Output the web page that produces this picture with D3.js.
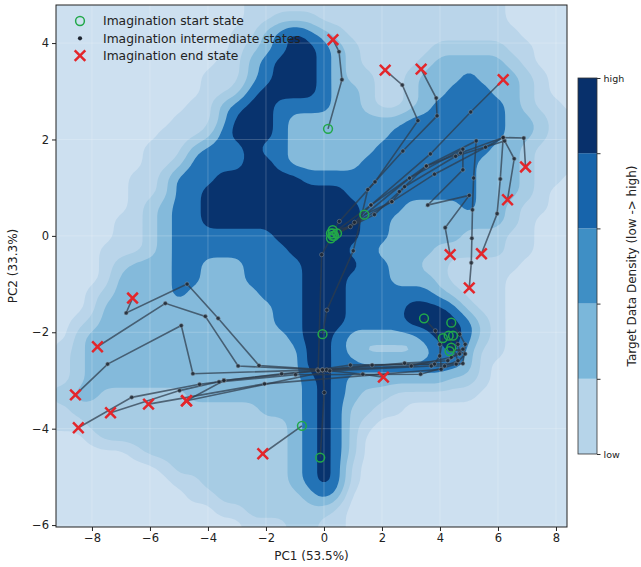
<!DOCTYPE html>
<html>
<head>
<meta charset="utf-8">
<script src="https://cdn.jsdelivr.net/npm/d3@7"></script>
<style>
  body { margin: 0; background: #fff; }
  text { font-family: "DejaVu Sans", sans-serif; fill: #222; }
</style>
</head>
<body>
<svg id="chart" width="641" height="567"></svg>
<script>
// ---- data ----
var xTicks = [-8, -6, -4, -2, 0, 2, 4, 6, 8];
var yTicks = [-6, -4, -2, 0, 2, 4];
var legendLabels = ["Imagination start state", "Imagination intermediate states", "Imagination end state"];

// density level, grid x = -9 .. 8.5 (step 0.5), y = 4.8 .. -6.0 (step -0.3)
var densityX0 = -9, densityDX = 0.5, densityY0 = 4.8, densityDY = -0.3;
var densityRows = [
  "000000000000011111111111111111100000",
  "000000000000011222111111111111100000",
  "000000000000113454321111111111110000",
  "000000000000123455432111112222211000",
  "000000000001134555432111123333321000",
  "000000000011134555432211233343332100",
  "000000000011245555433211233444332100",
  "000000000113455444433211234444432110",
  "000000001113555433333333444444433211",
  "000000011124555433333334444444433211",
  "000000111344454433333344444444332111",
  "000000112444455433333444444443332111",
  "000001124445555554444444444443332110",
  "000001124455555555554444444443332100",
  "000001234455555555555444333343321100",
  "000011234455555555555443333333321000",
  "000011234444444555555443333322211000",
  "000111234444444455554433332222211000",
  "000123334433344445555443322111110000",
  "000133334433344445554443332111100000",
  "001233334333334445554444443211100000",
  "001333333333333445554444555421100000",
  "012333333333333445554444555542100000",
  "023333333333333345543333345542100000",
  "123333333333333335543222234531100000",
  "123333333333333335544444444431000000",
  "123333333333333334543333333221000000",
  "233222222333333334543221111110000000",
  "122222222222223334542211000000000000",
  "112222222222222234542100000000000000",
  "001222222222222234542000000000000000",
  "000001222222222234542000000000000000",
  "000000012222222234541000000000000000",
  "000000001122222234541000000000000000",
  "000000000112222223430000000000000000",
  "000000000001122222210000000000000000",
  "000000000000011122110000000000000000"
];
var densityThresholds = [0.5, 1.5, 2.5, 3.5, 4.5];
var densityColors = ["#bad5ea", "#a7cce4", "#84badb", "#2373b6", "#08336e"];
var densityBackground = "#cde0f0";

var colorbarColors = ["#b6d4e9", "#7bb7da", "#3f8fc5", "#1764ab", "#08306b"];

// imagination trajectories: first point = start, last point = end
var trajectories = [
  [[0.14, 2.22], [0.62, 3.24], [0.52, 3.82], [0.31, 4.07]],
  [[0.24, 0.05], [0.53, 0.30], [1.76, 1.12], [3.24, 2.39], [2.70, 3.13], [2.11, 3.44]],
  [[-0.05, -2.04], [0.10, -1.54], [1.01, -0.31], [1.51, 0.96], [2.72, 1.76], [3.90, 2.49], [3.87, 2.86], [3.35, 3.46]],
  [[0.30, 0.00], [1.05, 0.28], [1.62, 0.64], [3.67, 1.70], [5.06, 2.57], [6.18, 3.24]],
  [[0.45, 0.05], [1.74, 0.44], [2.60, 0.92], [3.53, 1.45], [4.71, 1.72], [6.18, 2.04], [6.89, 2.03], [6.95, 1.43]],
  [[1.39, 0.44], [2.34, 0.71], [2.78, 1.02], [4.54, 1.65], [6.23, 1.97], [6.56, 1.60], [6.33, 0.75]],
  [[0.30, 0.12], [0.91, 0.19], [2.95, 1.20], [4.79, 1.80], [4.79, 1.37], [3.58, 0.64], [5.01, 0.84], [4.18, 0.17], [4.35, -0.39]],
  [[0.35, 0.00], [2.34, 0.71], [3.81, 1.28], [5.57, 1.84], [6.18, 2.04], [6.08, 1.18], [5.97, 0.46], [5.43, -0.37]],
  [[0.30, 0.05], [1.62, 0.64], [3.53, 1.45], [5.25, 1.97], [5.16, 1.20], [5.12, 0.54], [5.10, -0.05], [5.08, -0.56], [5.01, -1.08]],
  [[4.45, -2.07], [4.62, -2.25], [4.68, -2.45], [4.39, -2.52], [3.01, -2.70], [0.09, -2.78], [-2.24, -2.69], [-3.65, -1.71], [-4.72, -1.00], [-6.82, -1.60], [-6.60, -1.29]],
  [[4.39, -1.80], [4.68, -2.04], [4.87, -2.25], [4.79, -2.65], [1.66, -2.68], [-0.06, -2.78], [-2.96, -2.70], [-4.09, -1.67], [-5.47, -1.40], [-7.81, -2.30]],
  [[4.10, -2.12], [3.99, -2.49], [3.81, -2.66], [0.91, -2.68], [-0.22, -2.78], [-4.52, -2.86], [-4.92, -1.86], [-7.46, -2.66], [-8.57, -3.30]],
  [[4.39, -2.32], [4.87, -2.45], [4.56, -2.66], [3.33, -2.87], [-0.98, -2.88], [-3.62, -3.03], [-4.29, -3.08], [-6.63, -3.35], [-8.47, -3.98]],
  [[4.33, -2.39], [4.79, -2.35], [4.27, -2.59], [2.78, -2.64], [-1.46, -2.86], [-3.45, -3.00], [-4.98, -3.21], [-7.36, -3.67]],
  [[3.45, -1.71], [3.84, -1.97], [3.99, -2.25], [4.04, -2.77], [-2.05, -3.07], [-6.05, -3.49]],
  [[4.30, -2.07], [4.62, -2.59], [4.16, -2.70], [3.70, -2.70], [0.20, -2.80], [-4.74, -3.42]],
  [[0.24, -0.05], [-0.08, -0.39], [-0.20, -2.80], [-3.45, -3.00], [-4.74, -3.42]],
  [[-0.76, -3.94], [-2.11, -4.52]],
  [[-0.13, -4.60], [0.01, -3.25], [-0.05, -2.78], [1.34, -2.87], [2.05, -2.93]]
];

// ---- layout ----
var svg = d3.select("#chart");
var plot = {left: 56, right: 567, top: 5, bottom: 527};

var x = d3.scaleLinear().domain([-9.24, 8.38]).range([plot.left, plot.right]);
var y = d3.scaleLinear().domain([-6.04, 4.79]).range([plot.bottom, plot.top]);

svg.append("defs").append("clipPath").attr("id", "clip")
  .append("rect")
  .attr("x", plot.left).attr("y", plot.top)
  .attr("width", plot.right - plot.left).attr("height", plot.bottom - plot.top);

var g = svg.append("g").attr("clip-path", "url(#clip)");

g.append("rect")
  .attr("x", plot.left).attr("y", plot.top)
  .attr("width", plot.right - plot.left).attr("height", plot.bottom - plot.top)
  .attr("fill", densityBackground);

// ---- density contours ----
var nCols = densityRows[0].length, nRows = densityRows.length;
var up = 4;
var W = nCols * up, H = nRows * up;
function cell(i, j) {
  i = Math.max(0, Math.min(nCols - 1, i));
  j = Math.max(0, Math.min(nRows - 1, j));
  return +densityRows[j][i];
}
var field = new Float64Array(W * H);
for (var q = 0; q < H; q++) {
  for (var p = 0; p < W; p++) {
    var gx = (p + 0.5) / up - 0.5, gy = (q + 0.5) / up - 0.5;
    var i0 = Math.floor(gx), j0 = Math.floor(gy);
    var fx = gx - i0, fy = gy - j0;
    field[q * W + p] =
      cell(i0, j0) * (1 - fx) * (1 - fy) + cell(i0 + 1, j0) * fx * (1 - fy) +
      cell(i0, j0 + 1) * (1 - fx) * fy + cell(i0 + 1, j0 + 1) * fx * fy;
  }
}
// light box blur to round the corners
function blur(a, r) {
  var tmp = new Float64Array(a.length);
  for (var q = 0; q < H; q++) for (var p = 0; p < W; p++) {
    var s = 0, c = 0;
    for (var d = -r; d <= r; d++) { var pp = p + d; if (pp >= 0 && pp < W) { s += a[q * W + pp]; c++; } }
    tmp[q * W + p] = s / c;
  }
  for (var q = 0; q < H; q++) for (var p = 0; p < W; p++) {
    var s = 0, c = 0;
    for (var d = -r; d <= r; d++) { var qq = q + d; if (qq >= 0 && qq < H) { s += tmp[qq * W + p]; c++; } }
    a[q * W + p] = s / c;
  }
}
blur(field, 2);

var contours = d3.contours().size([W, H]).thresholds(densityThresholds)(field);
var toScreen = d3.geoTransform({
  point: function(u, v) {
    var dx = densityX0 + densityDX * (u / up - 0.5);
    var dy = densityY0 + densityDY * (v / up - 0.5);
    this.stream.point(x(dx), y(dy));
  }
});
var contourPath = d3.geoPath(toScreen);
g.selectAll("path.density")
  .data(contours)
  .enter().append("path")
  .attr("class", "density")
  .attr("d", contourPath)
  .attr("fill", function(d, i) { return densityColors[i]; });

// grid
g.selectAll("line.gx").data(xTicks).enter().append("line")
  .attr("x1", function(d) { return x(d); }).attr("x2", function(d) { return x(d); })
  .attr("y1", plot.top).attr("y2", plot.bottom)
  .attr("stroke", "#ffffff").attr("stroke-opacity", 0.25).attr("stroke-width", 0.8);
g.selectAll("line.gy").data(yTicks).enter().append("line")
  .attr("y1", function(d) { return y(d); }).attr("y2", function(d) { return y(d); })
  .attr("x1", plot.left).attr("x2", plot.right)
  .attr("stroke", "#ffffff").attr("stroke-opacity", 0.25).attr("stroke-width", 0.8);

// ---- trajectories ----
var line = d3.line().x(function(d) { return x(d[0]); }).y(function(d) { return y(d[1]); });
g.selectAll("path.traj").data(trajectories).enter().append("path")
  .attr("d", line)
  .attr("fill", "none")
  .attr("stroke", "#2e3b4b").attr("stroke-opacity", 0.72).attr("stroke-width", 1.6);

var mids = [];
trajectories.forEach(function(t) { t.slice(1, -1).forEach(function(p) { mids.push(p); }); });
g.selectAll("circle.mid").data(mids).enter().append("circle")
  .attr("cx", function(d) { return x(d[0]); }).attr("cy", function(d) { return y(d[1]); })
  .attr("r", 2.1).attr("fill", "#1e2530").attr("fill-opacity", 0.8)
  .attr("stroke", "#9aa3ad").attr("stroke-width", 0.4);

g.selectAll("circle.start").data(trajectories).enter().append("circle")
  .attr("cx", function(d) { return x(d[0][0]); }).attr("cy", function(d) { return y(d[0][1]); })
  .attr("r", 4.4).attr("fill", "none")
  .attr("stroke", "#22a84a").attr("stroke-width", 1.5);

var cross = "M-5.3,-5.3L5.3,5.3M-5.3,5.3L5.3,-5.3";
g.selectAll("path.end").data(trajectories).enter().append("path")
  .attr("transform", function(d) { var e = d[d.length - 1]; return "translate(" + x(e[0]) + "," + y(e[1]) + ")"; })
  .attr("d", cross)
  .attr("stroke", "#e3262b").attr("stroke-width", 2.5).attr("fill", "none");

// ---- axes ----
function fmt(d) { return d < 0 ? "\u2212" + Math.abs(d) : "" + d; }
var xAxis = svg.append("g").attr("transform", "translate(0," + plot.bottom + ")")
  .call(d3.axisBottom(x).tickValues(xTicks).tickSize(4).tickPadding(3).tickFormat(fmt));
var yAxis = svg.append("g").attr("transform", "translate(" + plot.left + ",0)")
  .call(d3.axisLeft(y).tickValues(yTicks).tickSize(4).tickPadding(3).tickFormat(fmt));
[xAxis, yAxis].forEach(function(a) {
  a.select(".domain").remove();
  a.selectAll("text").attr("font-size", 11.5).attr("font-family", "DejaVu Sans").attr("fill", "#222");
  a.selectAll("line").attr("stroke", "#222");
});

svg.append("rect")
  .attr("x", plot.left).attr("y", plot.top)
  .attr("width", plot.right - plot.left).attr("height", plot.bottom - plot.top)
  .attr("fill", "none").attr("stroke", "#222").attr("stroke-width", 1);

svg.append("text").attr("x", (plot.left + plot.right) / 2).attr("y", 560)
  .attr("text-anchor", "middle").attr("font-size", 12).text("PC1 (53.5%)");
svg.append("text").attr("transform", "translate(17," + ((plot.top + plot.bottom) / 2) + ") rotate(-90)")
  .attr("text-anchor", "middle").attr("font-size", 12).text("PC2 (33.3%)");

// ---- legend ----
var legend = svg.append("g").attr("transform", "translate(80,21)");
legendLabels.forEach(function(label, i) {
  var row = legend.append("g").attr("transform", "translate(0," + (i * 17.3) + ")");
  if (i === 0) row.append("circle").attr("r", 4.4).attr("fill", "none").attr("stroke", "#22a84a").attr("stroke-width", 1.5);
  if (i === 1) row.append("circle").attr("r", 2.1).attr("fill", "#1e2530");
  if (i === 2) row.append("path").attr("d", cross).attr("stroke", "#e3262b").attr("stroke-width", 2.5);
  row.append("text").attr("x", 23).attr("y", 4.3).attr("font-size", 12.3).text(label);
});

// ---- colorbar ----
var cb = {left: 578, right: 597, top: 78, bottom: 454};
var cbScale = d3.scaleLinear().domain([0, colorbarColors.length]).range([cb.bottom, cb.top]);
svg.selectAll("rect.cb").data(colorbarColors).enter().append("rect")
  .attr("x", cb.left).attr("width", cb.right - cb.left)
  .attr("y", function(d, i) { return cbScale(i + 1); })
  .attr("height", function(d, i) { return cbScale(i) - cbScale(i + 1); })
  .attr("fill", function(d) { return d; });
svg.append("rect").attr("x", cb.left).attr("y", cb.top)
  .attr("width", cb.right - cb.left).attr("height", cb.bottom - cb.top)
  .attr("fill", "none").attr("stroke", "#333").attr("stroke-width", 0.8);
var cbAxis = svg.append("g").attr("transform", "translate(" + cb.right + ",0)")
  .call(d3.axisRight(cbScale).tickValues(d3.range(0, colorbarColors.length + 1)).tickSize(3.5).tickPadding(3)
    .tickFormat(function(d) { return d === 0 ? "low" : d === colorbarColors.length ? "high" : ""; }));
cbAxis.select(".domain").remove();
cbAxis.selectAll("text").attr("font-size", 9.5).attr("font-family", "DejaVu Sans").attr("fill", "#222");
cbAxis.selectAll("line").attr("stroke", "#333");
svg.append("text").attr("transform", "translate(636," + ((cb.top + cb.bottom) / 2) + ") rotate(-90)")
  .attr("text-anchor", "middle").attr("font-size", 12).text("Target Data Density (low -> high)");
</script>
</body>
</html>
